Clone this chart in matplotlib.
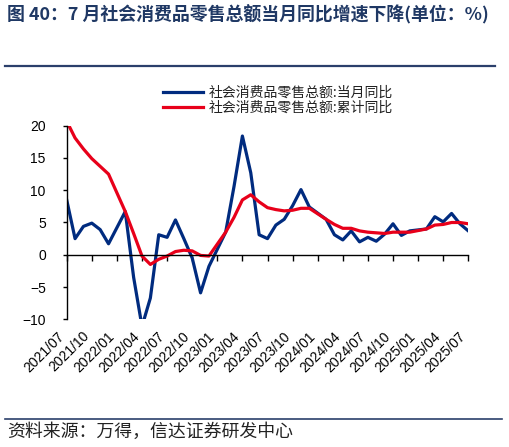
import matplotlib.pyplot as plt
from matplotlib.lines import Line2D

plt.rcParams['font.family'] = ['Noto Sans CJK SC', 'DejaVu Sans']

# 月份（1月数据与2月合并发布，故无1月）
months = ["2021/07", "2021/08", "2021/09", "2021/10", "2021/11", "2021/12",
          "2022/02", "2022/03", "2022/04", "2022/05", "2022/06", "2022/07",
          "2022/08", "2022/09", "2022/10", "2022/11", "2022/12",
          "2023/02", "2023/03", "2023/04", "2023/05", "2023/06", "2023/07",
          "2023/08", "2023/09", "2023/10", "2023/11", "2023/12",
          "2024/02", "2024/03", "2024/04", "2024/05", "2024/06", "2024/07",
          "2024/08", "2024/09", "2024/10", "2024/11", "2024/12",
          "2025/02", "2025/03", "2025/04", "2025/05", "2025/06", "2025/07"]

monthly_yoy = [8.5, 2.5, 4.4, 4.9, 3.9, 1.7,
               6.7, -3.5, -11.1, -6.7, 3.1, 2.7, 5.4, 2.5, -0.5, -5.9, -1.8,
               3.5, 10.6, 18.4, 12.7, 3.1, 2.5, 4.6, 5.5, 7.6, 10.1, 7.4,
               5.5, 3.1, 2.3, 3.7, 2.0, 2.7, 2.1, 3.2, 4.8, 3.0, 3.7,
               4.0, 5.9, 5.1, 6.4, 4.8, 3.7]

cumulative_yoy = [20.7, 18.1, 16.4, 14.9, 13.7, 12.5,
                  6.7, 3.3, -0.2, -1.5, -0.7, -0.2, 0.5, 0.7, 0.6, -0.1, -0.2,
                  3.5, 5.8, 8.5, 9.3, 8.2, 7.3, 7.0, 6.8, 6.9, 7.2, 7.2,
                  5.5, 4.7, 4.1, 4.1, 3.7, 3.5, 3.4, 3.3, 3.5, 3.5, 3.5,
                  4.0, 4.6, 4.7, 5.0, 5.0, 4.8]

tick_labels = ["2021/07", "2021/10", "2022/01", "2022/04", "2022/07", "2022/10",
               "2023/01", "2023/04", "2023/07", "2023/10", "2024/01", "2024/04",
               "2024/07", "2024/10", "2025/01", "2025/04", "2025/07"]

label_month = "社会消费品零售总额:当月同比"
label_cum = "社会消费品零售总额:累计同比"


def month_index(s):
    y, m = s.split('/')
    return (int(y) - 2021) * 12 + int(m) - 7


xs = [month_index(s) for s in months]
tick_pos = [month_index(s) for s in tick_labels]

fig = plt.figure(figsize=(5.09, 4.47), dpi=100)
ax = fig.add_axes([66.7 / 509, 1 - 319.3 / 447, (468.3 - 66.7) / 509, (319.3 - 125.7) / 447])

ax.plot(xs, monthly_yoy, color='#002B7F', lw=2.3, label=label_month)
ax.plot(xs, cumulative_yoy, color='#E8001A', lw=2.3, label=label_cum)

ax.set_xlim(tick_pos[0], tick_pos[-1])
ax.set_ylim(-10, 20)
ax.set_yticks(range(-10, 21, 5))
ax.spines['top'].set_visible(False)
ax.spines['right'].set_visible(False)
ax.spines['bottom'].set_position(('data', 0))
ax.spines['bottom'].set_linewidth(1.0)
ax.spines['left'].set_linewidth(1.0)
ax.set_xticks(tick_pos)
ax.tick_params(axis='x', direction='out', length=4, width=1, labelbottom=False)
ax.tick_params(axis='y', direction='out', length=3, width=1, pad=12)
for t in ax.get_yticklabels():
    t.set_fontfamily('Liberation Sans')
    t.set_fontsize(10)

sec = ax.secondary_xaxis('bottom')
sec.set_xticks(tick_pos, labels=tick_labels)
sec.spines['bottom'].set_visible(False)
sec.tick_params(length=0, pad=7)
for t in sec.get_xticklabels():
    t.set_fontfamily('Liberation Sans')
    t.set_fontsize(10)
    t.set_rotation(45)
    t.set_ha('right')

fig.legend(loc='upper left', bbox_to_anchor=(163 / 509, 1 - 86 / 447), frameon=False,
           fontsize=10, handlelength=2.9, handletextpad=0.4, labelspacing=0.05,
           borderpad=0, borderaxespad=0, labelcolor='#222222')

fig.text(7 / 509, 1 - 14.5 / 447, "图 40：7 月社会消费品零售总额当月同比增速下降(单位：%)",
         fontsize=12.9, fontweight='bold', color='#1F3864', va='center', ha='left')
fig.add_artist(Line2D([5 / 509, 495 / 509], [1 - 65.7 / 447] * 2, color='#2B3F6B', lw=1.6))
fig.add_artist(Line2D([5 / 509, 502 / 509], [1 - 419.3 / 447] * 2, color='#2B3F6B', lw=1.2))
fig.text(7 / 509, 1 - 432 / 447, "资料来源：万得，信达证券研发中心",
         fontsize=12.9, color='#222222', va='center', ha='left', style='italic')

fig.savefig('out.png', dpi=100)
